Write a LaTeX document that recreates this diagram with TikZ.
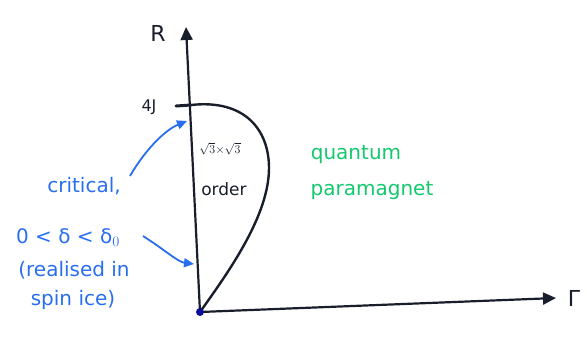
\documentclass[tikz,border=0pt]{standalone}
\usepackage{fontspec}
\setmainfont{DejaVu Sans}
\usetikzlibrary{arrows.meta}
\definecolor{pen}{RGB}{25,30,45}
\definecolor{bluepen}{RGB}{40,110,240}
\definecolor{greenpen}{RGB}{20,200,110}
\begin{document}
\begin{tikzpicture}[x=1pt,y=-1pt,
  axis/.style={draw=pen,line width=2.2pt,-{Triangle[length=13pt,width=12pt]}},
  lobe/.style={draw=pen,line width=2.4pt},
  bluearrow/.style={draw=bluepen,line width=1.8pt,-{Triangle[length=10pt,width=9pt]}},
  bluetxt/.style={text=bluepen,font=\fontsize{20}{22}\selectfont,inner sep=0pt},
  greentxt/.style={text=greenpen,font=\fontsize{20}{22}\selectfont,inner sep=0pt},
  blacktxt/.style={text=pen,inner sep=0pt}]
\useasboundingbox (0,0) rectangle (587,338);
\coordinate (O) at (200,312);
\coordinate (Rtop) at (186,27);
\coordinate (Gtip) at (556,298);
\coordinate (T) at (191,105);
\coordinate (Tl) at (176,106);
\draw[axis] (O) -- (Rtop);
\draw[axis] (O) -- (Gtip);
\draw[draw=pen,line width=3pt,line cap=round] (Tl) -- (T);
\draw[lobe] (T) .. controls (245,99) and (269,130) .. (269,168)
  .. controls (269,215) and (230,270) .. (O);
\fill[pen!50!blue] (O) circle (4pt);
\node[blacktxt,font=\fontsize{22}{24}\selectfont] (R) at (158,33) {R};
\node[blacktxt,font=\fontsize{22}{24}\selectfont] (G) at (574,298) {Γ};
\node[blacktxt,font=\fontsize{16}{18}\selectfont] (J) at (149,107) {4J};
\node[blacktxt,font=\fontsize{13}{15}\selectfont] (sq) at (220,149) {$\sqrt{3}{\times}\sqrt{3}$};
\node[blacktxt,font=\fontsize{17}{19}\selectfont] (ord) at (224,189) {order};
\node[greentxt] (q) at (356,155) {quantum};
\node[greentxt] (p) at (372,191) {paramagnet};
\node[bluetxt] (c) at (84,186) {critical,};
\node[bluetxt] (d) at (68,238) {0 < δ < δ$_0$};
\node[bluetxt] (r) at (74,270) {(realised in};
\node[bluetxt] (s) at (73,300) {spin ice)};
\coordinate (a1) at (187,121);
\coordinate (a2) at (194,264);
\coordinate (b1) at (130,176);
\coordinate (b2) at (143,236);
\draw[bluearrow] (b1) .. controls (145,150) and (165,130) .. (a1);
\draw[bluearrow] (b2) .. controls (165,250) and (178,262) .. (a2);
\end{tikzpicture}
\end{document}
